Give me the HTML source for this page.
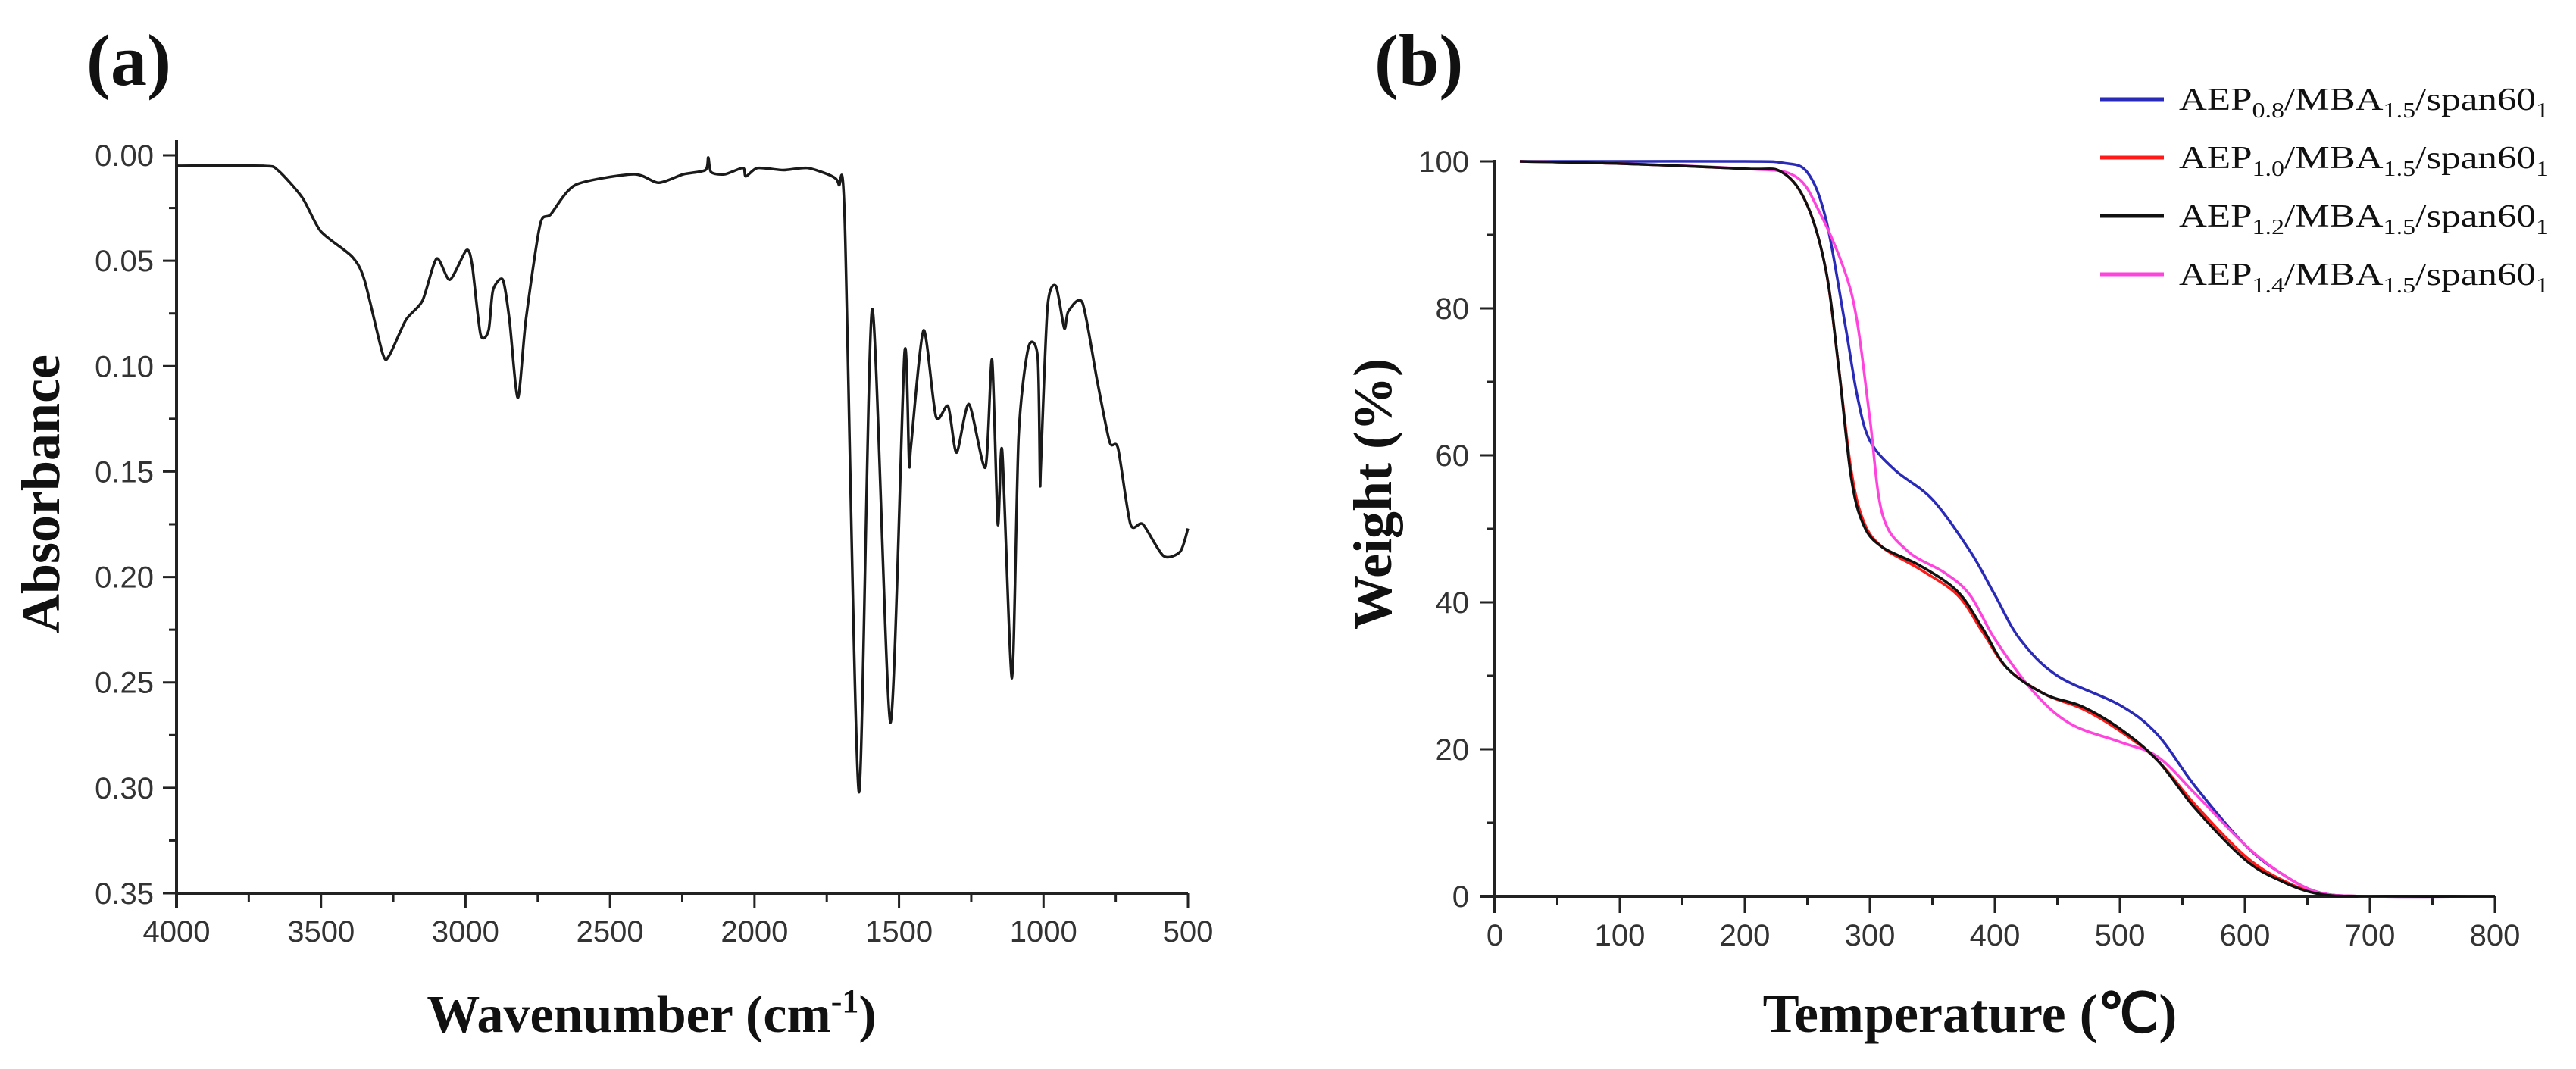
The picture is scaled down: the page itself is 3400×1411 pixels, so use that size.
<!DOCTYPE html>
<html><head><meta charset="utf-8"><style>
html,body{margin:0;padding:0;background:#fff;}
svg{display:block;}
.tick{font-family:"Liberation Sans",sans-serif;font-size:40px;fill:#333;}
.title{font-family:"Liberation Serif",serif;font-weight:bold;fill:#111;}
.leg{font-family:"Liberation Serif",serif;font-size:42px;fill:#111;}
</style></head><body>
<svg id="fig" width="3400" height="1411" viewBox="0 0 3400 1411" xmlns="http://www.w3.org/2000/svg">
<g id="pa"></g>
<g id="pb"></g>
</svg>
<script>
// ---- Panel (a) data: FTIR ----
const irWavenumber = [4000,3700,3650,3565,3501,3393,3350,3287,3264,3206,3149,3100,3054,2997,2977,2948,2920,2905,2871,2848,2819,2791,2742,2705,2619,2418,2332,2246,2170,2160,2150,2103,2040,2030,1989,1900,1817,1731,1708,1688,1639,1593,1530,1481,1465,1458,1415,1372,1330,1301,1258,1201,1178,1158,1143,1109,1086,1052,1020,1012,1009,986,957,928,914,865,814,771,742,699,656,585,527,500];
const irAbsorb = [0.005,0.005,0.007,0.020,0.036,0.048,0.059,0.094,0.095,0.078,0.069,0.049,0.059,0.045,0.052,0.085,0.083,0.064,0.059,0.078,0.115,0.078,0.033,0.028,0.014,0.009,0.013,0.009,0.007,0.001,0.008,0.009,0.006,0.010,0.006,0.007,0.006,0.010,0.014,0.030,0.302,0.073,0.269,0.094,0.146,0.137,0.083,0.124,0.119,0.141,0.118,0.148,0.097,0.175,0.140,0.248,0.133,0.091,0.096,0.154,0.146,0.072,0.062,0.082,0.074,0.070,0.107,0.136,0.139,0.175,0.175,0.190,0.188,0.177];
const irXTicks = [4000,3500,3000,2500,2000,1500,1000,500];
const irYTicks = [0.00,0.05,0.10,0.15,0.20,0.25,0.30,0.35];

// ---- Panel (b) data: TGA ----
const tgaLabels = ["0.8","1.0","1.2","1.4"];
const tgaColors = ["#2a2ab8","#ff1a1a","#111111","#ff44dd"];
const tgaTemp08 = [20,100,200,230,250,265,280,290,300,320,350,380,400,420,450,500,530,560,600,630,660,700,800];
const tgaW08 = [100,100,100,99.8,98.5,92,78,68,62,58,54,47,41,35,30,26,22,15,7,3,0.5,0,0];
const tgaTemp10 = [20,100,200,230,250,265,275,285,295,310,340,370,390,410,440,470,500,530,560,600,630,660,700,800];
const tgaW10 = [100,99.7,99,98.5,94,85,72,58,51,47.5,44.5,41,36,31,27.5,25.5,22.5,18.5,12.5,5.5,2.2,0.4,0,0];
const tgaTemp12 = [20,100,200,230,250,265,275,285,295,310,340,370,390,410,440,470,500,530,560,600,630,660,700,800];
const tgaW12 = [100,99.7,99,98.5,94,85,72,57,50.5,47.5,45,41.5,36.5,31,27.5,25.8,22.8,18.5,12,5,2,0.3,0,0];
const tgaTemp14 = [20,100,200,240,260,280,290,300,310,330,360,380,400,430,460,500,530,560,600,630,660,700,800];
const tgaW14 = [100,99.7,99,98,93,85,78,65,52,47,44,41,35,28,23.5,21,19,14,7,3,0.5,0,0];
const tgaXTicks = [0,100,200,300,400,500,600,700,800];
const tgaYTicks = [0,20,40,60,80,100];

const NS="http://www.w3.org/2000/svg";
function mk(parent,tag,attrs,text){const e=document.createElementNS(NS,tag);for(const k in attrs)e.setAttribute(k,attrs[k]);if(text!==undefined)e.textContent=text;parent.appendChild(e);return e;}
function catmull(pts,ten){const f=ten||6;let d="M"+pts[0][0].toFixed(1)+","+pts[0][1].toFixed(1);for(let i=0;i<pts.length-1;i++){const p0=pts[Math.max(0,i-1)],p1=pts[i],p2=pts[i+1],p3=pts[Math.min(pts.length-1,i+2)];const c1=[(p1[0]+(p2[0]-p0[0])/f).toFixed(1),(p1[1]+(p2[1]-p0[1])/f).toFixed(1)],c2=[(p2[0]-(p3[0]-p1[0])/f).toFixed(1),(p2[1]-(p3[1]-p1[1])/f).toFixed(1)];d+=" C"+c1.join(",")+" "+c2.join(",")+" "+p2[0].toFixed(1)+","+p2[1].toFixed(1);}return d;}

// Panel a
const pa=document.getElementById('pa');
const ax0=233,ax1=1568,ay0=205,ay1=1179;
const xA=v=>ax0+(4000-v)/3500*(ax1-ax0);
const yA=v=>ay0+v/0.35*(ay1-ay0);
let t=mk(pa,'text',{x:114,y:112,class:'title','font-size':96},'(a)');


let e=mk(pa,'line',{x1:ax0,y1:ay0-20,x2:ax0,y2:ay1+20,stroke:'#222','stroke-width':4});


e=mk(pa,'line',{x1:ax0-2,y1:ay1,x2:ax1,y2:ay1,stroke:'#222','stroke-width':4});


irYTicks.forEach((v,i)=>{const y=yA(v);mk(pa,'line',{x1:ax0-18,y1:y,x2:ax0,y2:y,stroke:'#222','stroke-width':3});
 if(i<irYTicks.length-1){const ym=yA(v+0.025);mk(pa,'line',{x1:ax0-10,y1:ym,x2:ax0,y2:ym,stroke:'#222','stroke-width':3});}
 const l=mk(pa,'text',{x:ax0-30,y:y+14,class:'tick','text-anchor':'end'},v.toFixed(2));
 
 });
irXTicks.forEach((v,i)=>{const x=xA(v);mk(pa,'line',{x1:x,y1:ay1,x2:x,y2:ay1+20,stroke:'#222','stroke-width':3});
 if(i<irXTicks.length-1){const xm=xA(v-250);mk(pa,'line',{x1:xm,y1:ay1,x2:xm,y2:ay1+11,stroke:'#222','stroke-width':3});}
 const l=mk(pa,'text',{x:x,y:1243,class:'tick','text-anchor':'middle'},String(v));
 
 });
t=mk(pa,'text',{x:860,y:1362,class:'title','font-size':70,'text-anchor':'middle'});
t.innerHTML='Wavenumber (cm<tspan dy="-26" font-size="44">-1</tspan><tspan dy="26">)</tspan>';


t=mk(pa,'text',{x:0,y:0,class:'title','font-size':72,'text-anchor':'middle',transform:'translate(78,652) rotate(-90)'},'Absorbance');


let irPts=irWavenumber.map((w,i)=>[xA(w),yA(irAbsorb[i])]);
e=mk(pa,'path',{d:catmull(irPts,8),fill:'none',stroke:'#1a1a1a','stroke-width':3.5,'stroke-linejoin':'round'});



// Panel b
const pb=document.getElementById('pb');
const bx0=1973,bx1=3293,by0=213,by1=1183;
const xB=v=>bx0+v/800*(bx1-bx0);
const yB=v=>by1-v/100*(by1-by0);
t=mk(pb,'text',{x:1814,y:112,class:'title','font-size':96},'(b)');


e=mk(pb,'line',{x1:bx0,y1:by0-2,x2:bx0,y2:by1+22,stroke:'#222','stroke-width':4});


e=mk(pb,'line',{x1:bx0-20,y1:by1,x2:bx1,y2:by1,stroke:'#222','stroke-width':4});


tgaYTicks.forEach((v,i)=>{const y=yB(v);mk(pb,'line',{x1:bx0-20,y1:y,x2:bx0,y2:y,stroke:'#222','stroke-width':3});
 if(i<tgaYTicks.length-1){const ym=yB(v+10);mk(pb,'line',{x1:bx0-10,y1:ym,x2:bx0,y2:ym,stroke:'#222','stroke-width':3});}
 const l=mk(pb,'text',{x:bx0-34,y:y+14,class:'tick','text-anchor':'end'},String(v));
 
 });
tgaXTicks.forEach((v,i)=>{const x=xB(v);mk(pb,'line',{x1:x,y1:by1,x2:x,y2:by1+22,stroke:'#222','stroke-width':3});
 if(i<tgaXTicks.length-1){const xm=xB(v+50);mk(pb,'line',{x1:xm,y1:by1,x2:xm,y2:by1+12,stroke:'#222','stroke-width':3});}
 const l=mk(pb,'text',{x:x,y:1248,class:'tick','text-anchor':'middle'},String(v));
 
 });
t=mk(pb,'text',{x:2600,y:1362,class:'title','font-size':72,'text-anchor':'middle'},'Temperature (\u2103)');


t=mk(pb,'text',{x:0,y:0,class:'title','font-size':72,'text-anchor':'middle',transform:'translate(1836,652) rotate(-90)'},'Weight (%)');


const series=[[tgaTemp08,tgaW08],[tgaTemp10,tgaW10],[tgaTemp12,tgaW12],[tgaTemp14,tgaW14]];
const order=[0,1,3,2];
order.forEach(k=>{const s=series[k];const p=s[0].map((x,i)=>[xB(x),yB(s[1][i])]);
 const c=mk(pb,'path',{d:catmull(p),fill:'none',stroke:tgaColors[k],'stroke-width':3.5});
 
 });
const legY=[131,208,285,362];
tgaLabels.forEach((lab,i)=>{const g=mk(pb,'g',{});
 
 
 mk(g,'line',{x1:2772,y1:legY[i],x2:2856,y2:legY[i],stroke:tgaColors[i],'stroke-width':5});
 const tx=mk(g,'text',{x:2876,y:legY[i]+14,class:'leg',textLength:488,lengthAdjust:'spacingAndGlyphs'});
 tx.innerHTML='AEP<tspan dy="10" font-size="28">'+lab+'</tspan><tspan dy="-10">/MBA</tspan><tspan dy="10" font-size="28">1.5</tspan><tspan dy="-10">/span60</tspan><tspan dy="10" font-size="28">1</tspan>';});
</script>
</body></html>
